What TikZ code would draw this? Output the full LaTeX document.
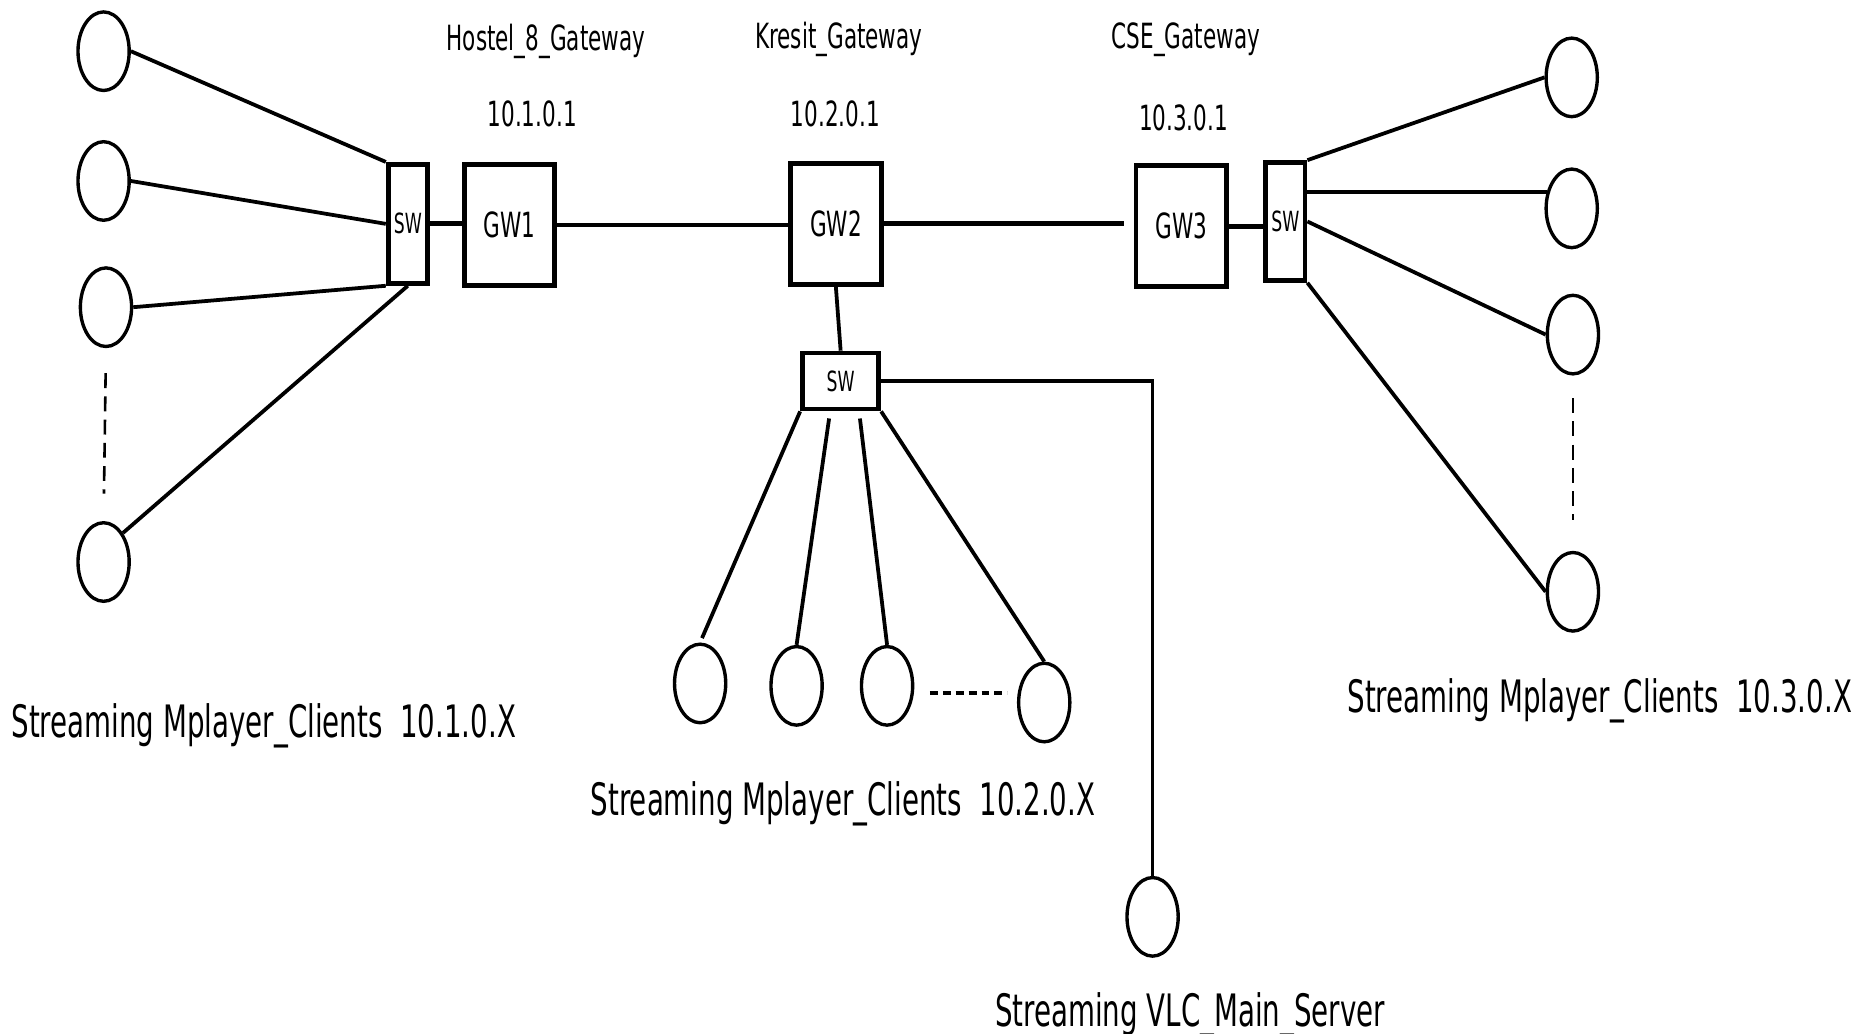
\documentclass[tikz,border=0pt]{standalone}
\usepackage{fontspec}
\setmainfont{DejaVu Sans}[FakeStretch=0.62]
\usetikzlibrary{shapes.geometric}
\begin{document}
\begin{tikzpicture}[x=0.6pt,y=-0.6pt,
  box/.style={draw, line width=2.4pt, inner sep=0pt, font=\fontsize{17.5}{20}\selectfont},
  gwbox/.style={box, minimum width=45.6pt, minimum height=61pt},
  swbox/.style={box, font=\fontsize{14}{16}\selectfont},
  host/.style={draw, ellipse, line width=1.7pt, inner sep=0pt, minimum width=25.8pt, minimum height=39.6pt},
  link/.style={line width=2.4pt},
  wire/.style={line width=1.9pt},
  gap/.style={line width=1.3pt, dash pattern=on 7.5pt off 4.2pt},
  dots/.style={line width=2.4pt, dash pattern=on 4pt off 2.5pt},
  small/.style={font=\fontsize{17.5}{20}\selectfont, inner sep=0pt, anchor=base},
  big/.style={font=\fontsize{22.5}{26}\selectfont, inner sep=0pt, anchor=base}]
\useasboundingbox (0,0) rectangle (1568,868);

% gateways and switches
\node[swbox, minimum width=19.8pt, minimum height=60pt] (swL) at (342.5,188) {SW};
\node[gwbox] (gw1) at (428,189) {GW1};
\node[gwbox] (gw2) at (702,188) {GW2};
\node[gwbox] (gw3) at (992,190) {GW3};
\node[swbox, minimum width=19.8pt, minimum height=59.4pt] (swR) at (1079.5,186) {SW};
\node[swbox, minimum width=38.4pt, minimum height=28.2pt] (swM) at (706,320) {SW};

% hosts
\node[host] (L1) at (87,43) {};
\node[host] (L2) at (87,152) {};
\node[host] (L3) at (89,258) {};
\node[host] (L4) at (87,472) {};
\node[host] (R1) at (1320,65) {};
\node[host] (R2) at (1320,175) {};
\node[host] (R3) at (1321,281) {};
\node[host] (R4) at (1321,497) {};
\node[host] (M1) at (588,574) {};
\node[host] (M2) at (669,576) {};
\node[host] (M3) at (745,576) {};
\node[host] (M4) at (877,590) {};
\node[host] (vlc) at (968,770) {};

% labels
\node[small] (t1) at (458.5,42) {Hostel\_8\_Gateway};
\node[small] (i1) at (447,106) {10.1.0.1};
\node[small] (t2) at (704.5,41) {Kresit\_Gateway};
\node[small] (i2) at (701.5,106) {10.2.0.1};
\node[small] (t3) at (996,41) {CSE\_Gateway};
\node[small] (i3) at (994,110) {10.3.0.1};
\node[big] (c1) at (221.5,619) {Streaming Mplayer\_Clients\ \ 10.1.0.X};
\node[big] (c3) at (1343.5,598) {Streaming Mplayer\_Clients\ \ 10.3.0.X};
\node[big] (c2) at (708,685) {Streaming Mplayer\_Clients\ \ 10.2.0.X};
\node[big] (cs) at (999.5,862) {Streaming VLC\_Main\_Server};

% backbone
\draw[link] (swL.east) -- (swL.east -| gw1.west);
\draw[link] (gw1.east) -- (gw1.east -| gw2.west);
\draw[link, shorten >=4.8pt] (gw2.east) -- (gw2.east -| gw3.west);
\draw[link] (gw3.east) -- (gw3.east -| swR.west);
\draw[wire] (gw2.south) -- (swM.north);
\draw[wire] (swM.east) -| (vlc.north);

% left subnet
\draw[wire] (L1.east) -- (swL.north west);
\draw[wire] (L2.east) -- (swL.west);
\draw[wire] (L3.east) -- (swL.south west);
\draw[wire] (L4.north east) -- (swL.south);
\draw[gap, shorten <=12.6pt, shorten >=13.8pt] (L3.south) -- (L4.north);

% right subnet
\draw[wire] (swR.north east) -- (R1.west);
\draw[wire] (R2.147) -- (R2.147 -| swR.east);
\draw[wire] (swR.east) -- (R3.west);
\draw[wire] (swR.south east) -- (R4.west);
\draw[gap, shorten <=11.4pt, shorten >=15.6pt] (R3.south) -- (R4.north);

% middle subnet
\draw[wire, shorten >=2.4pt] (swM.south west) -- (M1.north);
\draw[wire, shorten <=3.6pt] ([xshift=-5.3pt]swM.south) -- (M2.north);
\draw[wire, shorten <=3.6pt] ([xshift=9.3pt]swM.south) -- (M3.north);
\draw[wire] (swM.south east) -- (M4.north);
\coordinate (dA) at (781,582);
\coordinate (dB) at (846,582);
\draw[dots] (dA) -- (dB);
\end{tikzpicture}
\end{document}
